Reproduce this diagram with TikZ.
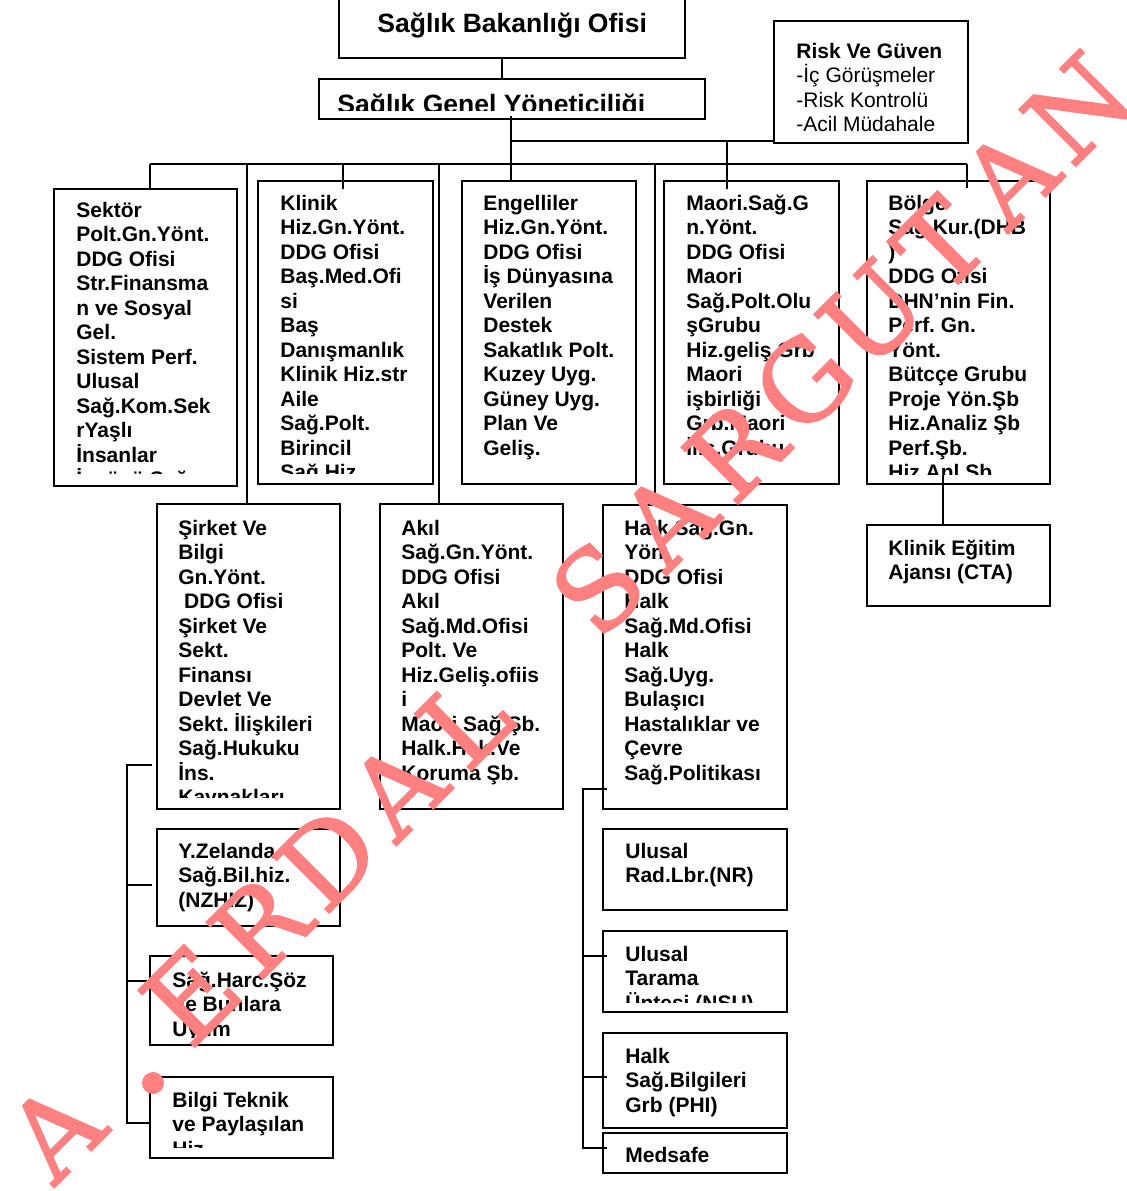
\documentclass[tikz,border=0pt]{standalone}
\usepackage{fontspec}
\setmainfont{Liberation Sans}
\newfontfamily\wmfont[FakeBold=1.5]{DejaVu Serif}
\definecolor{wmc}{RGB}{255,128,128}
\frenchspacing
\newcommand\stk[1]{\vtop{\baselineskip=12.25pt\lineskiplimit=-\maxdimen\halign{##\hfil\cr#1\crcr}}}
\newcommand\mkbox[5]{\node[box, minimum width={(#4-#2)*0.5pt}, minimum height={(#5-#3)*0.5pt}] (#1) at (#2,#3) {};}
\begin{document}
\begin{tikzpicture}[x=0.5pt,y=-0.5pt,
 box/.style={draw, line width=1pt, rectangle, inner sep=0pt, outer sep=0pt, anchor=north west},
 txt/.style={inner sep=0pt, anchor=base west, font=\bfseries\fontsize{10.5pt}{12.25pt}\selectfont},
 rtxt/.style={inner sep=0pt, anchor=base west, font=\fontsize{10.5pt}{12.25pt}\selectfont},
 ttl/.style={inner sep=0pt, anchor=base west, font=\bfseries\fontsize{13.25pt}{15pt}\selectfont},
 ln/.style={line width=1pt},
 wm/.style={text=wmc, inner sep=0pt, anchor=base, rotate=45, font=\wmfont\fontsize{55pt}{60pt}\selectfont}]
\fill[white] (0,0) rectangle (1127,1191);
\useasboundingbox (0,0) rectangle (1127,1191);

% ---------- boxes ----------
\mkbox{bak}{339}{-3}{685}{58}
\mkbox{genel}{319}{79}{705}{119}
\mkbox{risk}{774}{21}{968}{143}
\mkbox{sektor}{54}{189}{237}{486}
\mkbox{klinik}{258}{181}{433}{484}
\mkbox{engel}{462}{181}{636}{484}
\mkbox{maori}{664}{181}{839}{484}
\mkbox{bolge}{867}{181}{1050}{484}
\mkbox{cta}{867}{525}{1050}{606}
\mkbox{sirket}{157}{504}{340}{809}
\mkbox{akil}{380}{504}{563}{809}
\mkbox{halk}{603}{505}{787}{809}
\mkbox{yzel}{157}{829}{340}{926}
\mkbox{harc}{150}{956}{333}{1045}
\mkbox{bilgi}{150}{1077}{333}{1158}
\mkbox{rad}{603}{829}{787}{910}
\mkbox{tarama}{603}{931}{787}{1012}
\mkbox{phi}{603}{1033}{787}{1128}
\mkbox{medsafe}{603}{1133}{787}{1173}

% ---------- texts ----------
\node[ttl] (bak-t) at (377,32) {Sağlık Bakanlığı Ofisi};
\begin{scope}
\clip (319,79) rectangle (705,110.5);
\node[ttl] (genel-t) at (337,113) {Sağlık Genel Yöneticiliği};
\end{scope}
\node[txt] (risk-t) at (796,58) {Risk Ve Güven};
\node[rtxt] (risk-t2) at (796,82.5) {\stk{-İç Görüşmeler\cr -Risk Kontrolü\cr -Acil Müdahale}};

\begin{scope}
\clip (54,189) rectangle (237,473);
\node[txt] (sektor-t) at (76,217) {\stk{Sektör\cr Polt.Gn.Yönt.\cr DDG Ofisi\cr Str.Finansma\cr n ve Sosyal\cr Gel.\cr Sistem Perf.\cr Ulusal\cr Sağ.Kom.Sek\cr rYaşlı\cr İnsanlar\cr İşgücü Sağ.}};
\end{scope}
\begin{scope}
\clip (258,181) rectangle (433,473);
\node[txt] (klinik-t) at (280,210) {\stk{Klinik\cr Hiz.Gn.Yönt.\cr DDG Ofisi\cr Baş.Med.Ofi\cr si\cr Baş\cr Danışmanlık\cr Klinik Hiz.str\cr Aile\cr Sağ.Polt.\cr Birincil\cr Sağ.Hiz}};
\end{scope}
\node[txt] (engel-t) at (483,210) {\stk{Engelliler\cr Hiz.Gn.Yönt.\cr DDG Ofisi\cr İş Dünyasına\cr Verilen\cr Destek\cr Sakatlık Polt.\cr Kuzey Uyg.\cr Güney Uyg.\cr Plan Ve\cr Geliş.}};
\node[txt] (maori-t) at (686,210) {\stk{Maori.Sağ.G\cr n.Yönt.\cr DDG Ofisi\cr Maori\cr Sağ.Polt.Olu\cr şGrubu\cr Hiz.geliş.Grb\cr Maori\cr işbirliği\cr Grb.Maori\cr İliş.Grubu}};
\begin{scope}
\clip (867,181) rectangle (1050,474);
\node[txt] (bolge-t) at (888,210) {\stk{Bölge\cr Sağ.Kur.(DHB\cr )\cr DDG Ofisi\cr DHN’nin Fin.\cr Perf. Gn.\cr Yönt.\cr Bütcçe Grubu\cr Proje Yön.Şb\cr Hiz.Analiz Şb\cr Perf.Şb.\cr Hiz.Anl.Şb}};
\end{scope}
\node[txt] (cta-t) at (888,555) {\stk{Klinik Eğitim\cr Ajansı (CTA)}};

\begin{scope}
\clip (157,504) rectangle (340,797);
\node[txt] (sirket-t) at (178,535) {\stk{Şirket Ve\cr Bilgi\cr Gn.Yönt.\cr \ DDG Ofisi\cr Şirket Ve\cr Sekt.\cr Finansı\cr Devlet Ve\cr Sekt. İlişkileri\cr Sağ.Hukuku\cr İns.\cr Kaynakları}};
\end{scope}
\node[txt] (akil-t) at (401,535) {\stk{Akıl\cr Sağ.Gn.Yönt.\cr DDG Ofisi\cr Akıl\cr Sağ.Md.Ofisi\cr Polt. Ve\cr Hiz.Geliş.ofiis\cr i\cr Maori Sağ.Şb.\cr Halk.Hak.Ve\cr Koruma Şb.}};
\node[txt] (halk-t) at (624,535) {\stk{Halk Sağ.Gn.\cr Yön.\cr DDG Ofisi\cr Halk\cr Sağ.Md.Ofisi\cr Halk\cr Sağ.Uyg.\cr Bulaşıcı\cr Hastalıklar ve\cr Çevre\cr Sağ.Politikası}};

\node[txt] (yzel-t) at (178,858) {\stk{Y.Zelanda\cr Sağ.Bil.hiz.\cr (NZHIZ)}};
\begin{scope}
\clip (150,956) rectangle (333,1037);
\node[txt] (harc-t) at (172,987) {\stk{Sağ.Harc.Şöz\cr Ve Bunlara\cr Uyum}};
\end{scope}
\begin{scope}
\clip (150,1077) rectangle (333,1147);
\node[txt] (bilgi-t) at (172,1107) {\stk{Bilgi Teknik\cr ve Paylaşılan\cr Hiz.}};
\end{scope}
\node[txt] (rad-t) at (625,858) {\stk{Ulusal\cr Rad.Lbr.(NR)}};
\begin{scope}
\clip (603,931) rectangle (787,1002);
\node[txt] (tarama-t) at (625,961) {\stk{Ulusal\cr Tarama\cr Üntesi (NSU)}};
\end{scope}
\node[txt] (phi-t) at (625,1063) {\stk{Halk\cr Sağ.Bilgileri\cr Grb (PHI)}};
\node[txt] (medsafe-t) at (625,1162) {Medsafe};

% ---------- connectors ----------
\coordinate (busL) at (150,164);
\coordinate (busR) at (967,164);
\coordinate (jg) at (511,116);
\coordinate (jr) at (511,141);
\draw[ln] (502,0 |- bak.south) -- (502,0 |- genel.north);
\draw[ln] (jg) -- (511,0 |- engel.north);
\draw[ln] (jr) -- (jr -| risk.west);
\draw[ln] (727,141) -- (727,189);
\draw[ln] (busL) -- (busR);
\draw[ln] (busL) -- (busL |- sektor.north);
\draw[ln] (247,164) -- (247,0 |- sirket.north);
\draw[ln] (343,164) -- (343,189);
\draw[ln] (439,164) -- (439,0 |- akil.north);
\draw[ln] (655,164) -- (655,0 |- halk.north);
\draw[ln] (busR) -- (967,188);
\draw[ln] (943,475) -- (943,0 |- cta.north);
% left bracket
\draw[ln] (152,765) -- (127,765) -- (127,1123) -- (bilgi.west |- 0,1123);
\draw[ln] (127,885) -- (152,885);
\draw[ln] (127,981) -- (harc.west |- 0,981);
% right bracket
\draw[ln] (607,789) -- (583,789) -- (583,1148) -- (607,1148);
\draw[ln] (583,956) -- (607,956);
\draw[ln] (583,1077) -- (607,1077);

% ---------- watermark ----------
\foreach \ch/\u [count=\i] in {A/-538, E/-402, R/-333, D/-265, A/-196, L/-128, S/5, A/74, R/142, G/211, U/279, T/348, A/416, N/485}
  \node[wm] (wm\i) at ({621+(\u)},{621-(\u)}) {\ch};
\fill[wmc] (153,1083) circle[radius=11];
\end{tikzpicture}
\end{document}
